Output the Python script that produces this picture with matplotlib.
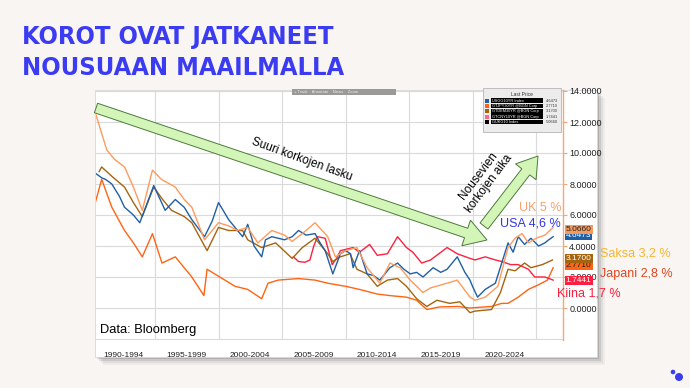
import matplotlib
matplotlib.use('Agg')
import matplotlib.pyplot as plt
from matplotlib import font_manager as fm
from matplotlib.patches import Rectangle, FancyArrow, Circle

# --- data (decimal year, yield %) ---
us_t = [1990.3, 1990.8, 1991.1, 1991.6, 1992.2, 1992.6, 1993.3, 1993.8, 1994.4, 1994.9,
        1995.8, 1996.6, 1997.3, 1997.9, 1998.9, 1999.5, 2000.0, 2000.8, 2001.4, 2001.9,
        2002.3, 2002.8, 2003.4, 2003.7, 2004.2, 2005.2, 2005.8, 2006.3, 2006.9, 2007.6,
        2008.0, 2008.4, 2009.0, 2009.6, 2010.0, 2010.4, 2010.6, 2011.1, 2011.7, 2012.2,
        2012.7, 2013.5, 2014.1, 2014.6, 2015.1, 2015.6, 2016.1, 2016.9, 2017.5, 2018.0,
        2018.8, 2019.4, 2019.8, 2020.0, 2020.4, 2021.0, 2021.8, 2022.3, 2022.8, 2023.2,
        2023.6, 2024.1, 2024.6, 2025.2, 2025.7, 2026.0, 2026.35]
us_v = [8.7, 8.4, 8.3, 8.0, 7.2, 6.5, 6.0, 5.5, 6.8, 7.9,
        6.3, 7.0, 6.5, 5.7, 4.6, 5.6, 6.8, 5.7, 5.1, 4.6,
        5.4, 4.0, 3.3, 4.4, 4.6, 4.4, 4.6, 5.0, 4.7, 4.8,
        4.2, 3.7, 2.2, 3.5, 3.7, 3.5, 2.6, 3.7, 2.2, 2.1,
        1.8, 2.6, 2.9, 2.5, 2.2, 2.3, 2.0, 2.6, 2.3, 2.5,
        3.3, 2.3, 1.8, 1.4, 0.7, 1.2, 1.6, 2.9, 4.2, 3.6,
        4.6, 4.1, 4.5, 4.0, 4.2, 4.4, 4.6]

uk_t = [1990.3, 1990.6, 1991.2, 1991.8, 1992.6, 1993.3, 1994.0, 1994.8, 1995.5, 1996.6,
        1997.3, 1997.9, 1998.9, 1999.5, 2000.0, 2000.8, 2001.5, 2002.3, 2003.1, 2004.2,
        2005.2, 2005.8, 2006.6, 2007.6, 2008.6, 2009.2, 2010.0, 2010.9, 2011.7, 2012.7,
        2013.5, 2014.3, 2015.1, 2016.1, 2016.7, 2018.0, 2018.8, 2019.8, 2020.2, 2021.0,
        2022.0, 2022.6, 2022.8, 2023.35, 2023.9, 2024.4, 2025.0, 2025.7, 2026.35]
uk_v = [12.6, 11.8, 10.2, 9.6, 9.1, 7.8, 6.3, 8.9, 8.3, 7.8,
        7.0, 6.5, 4.4, 5.0, 5.5, 5.3, 5.0, 5.2, 4.2, 5.0,
        4.7, 4.3, 4.8, 5.5, 4.6, 3.3, 3.7, 3.9, 2.6, 1.6,
        2.9, 2.6, 1.8, 1.0, 1.3, 1.6, 1.8, 0.7, 0.5, 0.7,
        1.4, 3.3, 3.9, 4.5, 4.8, 4.2, 4.5, 4.7, 5.2]

de_t = [1990.6, 1990.8, 1991.6, 1992.6, 1993.3, 1994.0, 1994.9, 1995.6, 1996.3, 1997.3,
        1997.9, 1999.1, 2000.0, 2000.8, 2001.9, 2002.3, 2003.4, 2004.5, 2005.8, 2006.6,
        2007.6, 2008.6, 2009.0, 2009.6, 2010.35, 2010.9, 2011.7, 2012.5, 2013.3, 2014.1,
        2014.8, 2015.6, 2016.4, 2017.2, 2018.2, 2019.0, 2019.8, 2020.2, 2021.5, 2022.2,
        2022.6, 2022.8, 2023.35, 2024.1, 2024.6, 2025.5, 2026.3]
de_v = [8.8, 9.1, 8.5, 7.8, 6.8, 5.9, 7.8, 7.0, 6.3, 5.9,
        5.5, 3.7, 5.2, 5.0, 5.0, 4.4, 3.9, 4.2, 3.2, 3.9,
        4.5, 3.5, 3.0, 3.3, 3.5, 2.5, 2.2, 1.4, 1.8, 1.9,
        1.4, 0.6, 0.1, 0.5, 0.3, 0.4, -0.3, -0.2, -0.1, 1.0,
        2.0, 2.5, 2.4, 2.9, 2.6, 2.8, 3.1]

cn_t = [2005.9, 2006.3, 2006.8, 2007.2, 2007.5, 2007.8, 2008.4, 2008.7, 2008.95, 2009.3,
        2009.6, 2010.6, 2011.1, 2011.9, 2012.5, 2013.3, 2014.1, 2014.8, 2015.3, 2016.0,
        2016.7, 2018.0, 2018.8, 2019.8, 2020.2, 2021.0, 2021.8, 2022.3, 2023.0, 2023.6,
        2024.4, 2024.9, 2025.7, 2026.35]
cn_v = [3.3, 3.0, 2.95, 3.1, 4.0, 4.6, 4.5, 3.6, 2.8, 3.2,
        3.7, 3.9, 3.6, 4.1, 3.4, 3.5, 4.6, 3.9, 3.6, 2.9,
        3.1, 3.9, 3.5, 3.2, 3.1, 3.3, 3.1, 3.0, 2.8, 2.8,
        2.5, 2.0, 2.0, 1.8]

jp_t = [1990.3, 1990.8, 1991.6, 1992.6, 1993.3, 1994.0, 1994.8, 1995.55, 1996.6, 1997.3,
        1997.9, 1998.85, 1999.1, 2000.3, 2001.3, 2002.3, 2003.4, 2003.9, 2004.7, 2006.3,
        2007.6, 2008.6, 2010.0, 2011.1, 2012.5, 2013.5, 2014.8, 2015.6, 2016.4, 2017.4,
        2018.8, 2019.8, 2020.6, 2021.5, 2022.3, 2022.8, 2023.6, 2024.4, 2025.2, 2025.9,
        2026.35]
jp_v = [6.8, 8.3, 6.5, 5.0, 4.2, 3.3, 4.8, 2.9, 3.3, 2.6,
        2.0, 0.8, 2.5, 1.9, 1.4, 1.2, 0.6, 1.6, 1.8, 1.9,
        1.8, 1.6, 1.4, 1.2, 0.9, 0.8, 0.7, 0.5, -0.1, 0.07,
        0.1, 0.0, 0.05, 0.1, 0.3, 0.3, 0.7, 1.2, 1.5, 1.8,
        2.6]

period_labels = ['1990-1994', '1995-1999', '2000-2004', '2005-2009',
                 '2010-2014', '2015-2019', '2020-2024']
legend_names = ['USGG10YR Index', 'GTJPY30YR @BGN Corp', 'GTDEM30YR @BGN Corp',
                'GTCNY10YR @BGN Corp', 'GUKG10 Index']
last_prices = [4.6473, 2.7710, 3.1700, 1.7441, 5.0660]
title_lines = ['KOROT OVAT JATKANEET', 'NOUSUAAN MAAILMALLA']

C_US, C_JP, C_DE, C_CN, C_UK = '#1f5fa6', '#ff6414', '#a5650f', '#ff1f40', '#ff9a5c'
BLUE = '#3b3bf2'
SANS = ['Liberation Sans', 'DejaVu Sans']


def bold_condensed():
    # pick any installed bold condensed/narrow face for the slide title
    for f in fm.fontManager.ttflist:
        w = f.weight if isinstance(f.weight, int) else fm.weight_dict.get(f.weight, 400)
        if w >= 700 and ('Condensed' in f.fname or 'Narrow' in f.fname) and 'Oblique' not in f.fname \
                and 'Italic' not in f.fname:
            return fm.FontProperties(fname=f.fname)
    return fm.FontProperties(family='DejaVu Sans', weight='bold')


W, H = 690, 388
fig = plt.figure(figsize=(W / 100, H / 100), dpi=100)
fig.patch.set_facecolor('#f8f5f3')

# background layer in pixel coords (card + shadow)
bg = fig.add_axes([0, 0, 1, 1], zorder=0)
bg.set_xlim(0, W); bg.set_ylim(H, 0); bg.axis('off')
for off, a in [(8, 0.04), (6, 0.06), (4, 0.09), (2, 0.12)]:
    bg.add_patch(Rectangle((95 + off, 90 + off), 502, 267, fc='black', alpha=a, ec='none'))
bg.add_patch(Rectangle((95, 90), 502, 267, fc='white', ec='#d8d8d8', lw=0.6))

# chart
ax = fig.add_axes([96 / W, 1 - 340 / H, 467 / W, 250 / H], zorder=2)
ax.set_facecolor('none')
ax.set_xlim(1995 - 59 / 12.7, 1995 + 408 / 12.7)
ax.set_ylim(-32 / 15.5, 218 / 15.5)
for s in ['left', 'top', 'bottom']:
    ax.spines[s].set_visible(False)
ax.spines['right'].set_color('#f7a66e')
ax.spines['right'].set_linewidth(1.0)

ax.yaxis.tick_right()
ax.set_yticks(range(0, 15, 2))
ax.set_yticklabels(['%.4f' % v for v in range(0, 15, 2)], family=SANS)
ax.tick_params(axis='y', length=3, color='#f7a66e', labelsize=6.5, pad=1.5, labelcolor='#222222')
ax.set_xticks(range(1995, 2030, 5))
ax.set_xticklabels([])
ax.set_xticks([1992.5 + 5 * i for i in range(len(period_labels))], minor=True)
ax.set_xticklabels(period_labels, minor=True, family=SANS)
ax.tick_params(axis='x', which='both', length=0, labelsize=6, pad=8.5, labelcolor='#222222')
ax.grid(True, which='major', color='#dadada', lw=0.8)
ax.axhline(-2, color='#dadada', lw=0.8)

ax.plot(jp_t, jp_v, color=C_JP, lw=1.0)
ax.plot(cn_t, cn_v, color=C_CN, lw=1.0)
ax.plot(de_t, de_v, color=C_DE, lw=1.0)
ax.plot(us_t, us_v, color=C_US, lw=1.0)
ax.plot(uk_t, uk_v, color=C_UK, lw=1.0)

# last-price boxes on the axis
tr = ax.get_yaxis_transform()
for val, fc, tc in [(4.6473, C_US, 'white'), (5.0660, '#f59a5c', '#222222'),
                    (2.7710, C_JP, '#222222'), (3.1700, C_DE, 'white'), (1.7441, C_CN, 'white')]:
    ax.text(1.006, val, '%.4f' % val, transform=tr, fontsize=6, family=SANS, color=tc,
            va='center', ha='left', clip_on=False, zorder=4,
            bbox=dict(boxstyle='square,pad=0.12', fc=fc, ec='none'))

# overlay layer in pixel coords
top = fig.add_axes([0, 0, 1, 1], zorder=5)
top.set_xlim(0, W); top.set_ylim(H, 0); top.axis('off')

# title, size fitted so the first line spans about 311 px like the slide
tfp = bold_condensed()
tfp.set_size(20)
t1 = top.text(22, 37, title_lines[0], fontproperties=tfp, color=BLUE, va='center', ha='left')
rend = fig.canvas.get_renderer()
wpx = t1.get_window_extent(rend).width
size = max(14, min(24, 20 * 311 / wpx))
tfp.set_size(size)
t1.set_fontproperties(tfp)
top.text(22, 68, title_lines[1], fontproperties=tfp, color=BLUE, va='center', ha='left')

# bloomberg toolbar
top.add_patch(Rectangle((292, 89), 104, 6, fc='#9a9a9a', ec='none'))
top.text(294, 92, '+ Track    Annotate    News    Zoom', fontsize=3, color='#eeeeee',
         va='center', ha='left', family=SANS)

# legend box
top.add_patch(Rectangle((483, 88), 78, 44, fc='#ececec', ec='#b5b5b5', lw=0.6))
top.text(522, 95, 'Last Price', fontsize=3.5, ha='center', va='center', family=SANS, color='#333333')
leg_cols = [C_US, C_JP, C_DE, '#ff6a8c', 'black']
for i, (nm, lp, c) in enumerate(zip(legend_names, last_prices, leg_cols)):
    yy = 100.5 + i * 5.4
    top.add_patch(Rectangle((485, yy - 2), 4, 4, fc=c, ec='none'))
    top.add_patch(Rectangle((491, yy - 2.3), 52, 4.6, fc='black', ec='none'))
    top.text(492, yy, nm, fontsize=2.8, color='white', va='center', ha='left', family=SANS)
    top.text(558, yy, '%.4f' % lp, fontsize=2.8, color='#333333', va='center', ha='right', family=SANS)

# arrows
top.add_patch(FancyArrow(96, 108, 391, 132, width=10, head_width=27, head_length=22,
                         length_includes_head=True, fc='#d3f6b8', ec='#4d7a3c', lw=0.7))
top.add_patch(FancyArrow(484, 226, 54, -70, width=10, head_width=26, head_length=20,
                         length_includes_head=True, fc='#d3f6b8', ec='#4d7a3c', lw=0.7))
top.text(302, 160, 'Suuri korkojen lasku', fontsize=8.5, rotation=-20, family=SANS,
         ha='center', va='center', color='black')
top.text(484, 180, 'Nousevien\nkorkojen aika', fontsize=8.5, rotation=53, family=SANS,
         ha='center', va='center', multialignment='center', linespacing=1.15, color='black')

# country annotations
top.text(519, 208, 'UK 5 %', fontsize=9, color='#f7a070', family=SANS, va='center')
top.text(500, 223, 'USA 4,6 %', fontsize=9, color='#3434e8', family=SANS, va='center')
top.text(600, 253, 'Saksa 3,2 %', fontsize=9, color='#f6b62a', family=SANS, va='center')
top.text(600, 274, 'Japani 2,8 %', fontsize=9, color='#e2461e', family=SANS, va='center')
top.text(557, 293.5, 'Kiina 1,7 %', fontsize=9, color='#ff1e3c', family=SANS, va='center')
top.text(100, 330, 'Data: Bloomberg', fontsize=9.3, color='black', family=SANS, va='center')

top.add_patch(Circle((673, 372), 2.3, fc=BLUE, ec='none'))
top.add_patch(Circle((679, 377), 4, fc=BLUE, ec='none'))

fig.savefig('out.png', dpi=100, facecolor=fig.get_facecolor())
